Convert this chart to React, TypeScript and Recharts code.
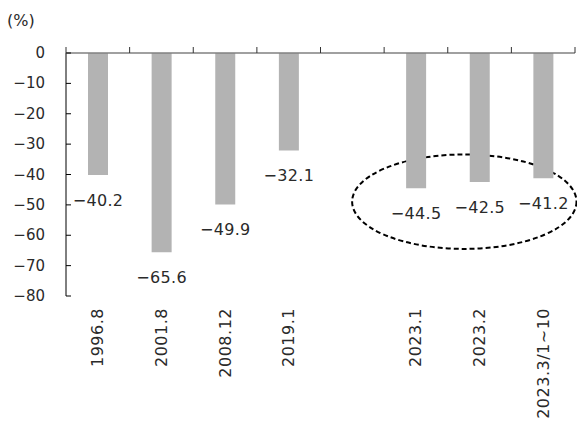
import React from 'react';
import { BarChart, Bar, XAxis, YAxis, LabelList, ReferenceArea, Label } from 'recharts';

// Period labels along the horizontal axis ('' is the spacer slot)
const categories = ['1996.8', '2001.8', '2008.12', '2019.1', '', '2023.1', '2023.2', '2023.3/1~10'];
// Percentage change for each period
const changes: (number | null)[] = [-40.2, -65.6, -49.9, -32.1, null, -44.5, -42.5, -41.2];
// Value-axis ticks
const yTicks = [0, -10, -20, -30, -40, -50, -60, -70, -80];

// Highlighted recent periods (dashed ellipse)
const highlightFrom = '2023.1';
const highlightTo = '2023.3/1~10';
const highlightTop = -33.4;
const highlightBottom = -64.5;

const data = categories.map((cat, i) => ({ cat, value: changes[i] }));

const FONT = '"DejaVu Sans", sans-serif';
const TEXT = '#2a2a2a';
const withMinus = (s: string) => s.replace('-', '\u2212');

const Y_MARGIN = 21;
const TOP_AXIS_H = 6;

const YTick = (props: any) => {
  const { x, y, payload } = props;
  const axisX = x + Y_MARGIN;
  return (
    <g>
      <line x1={axisX} x2={axisX + 5} y1={y} y2={y} stroke="#000" strokeWidth={1} />
      <text x={x} y={y} textAnchor="end" dominantBaseline="central" fontSize={15} fill={TEXT} fontFamily={FONT}>
        {withMinus(String(payload.value))}
      </text>
    </g>
  );
};

// Boundary tick marks pointing upward from the zero line
const TopTick = (props: any) => {
  const { x, y, payload, index } = props;
  const half = payload && typeof payload.offset === 'number' && payload.offset > 0 ? payload.offset : 31.8;
  return (
    <g>
      {index === 0 && <line x1={x - half} x2={x - half} y1={y} y2={y - 6} stroke="#333" strokeWidth={1} />}
      <line x1={x + half} x2={x + half} y1={y} y2={y - 6} stroke="#333" strokeWidth={1} />
    </g>
  );
};

const BottomTick = (props: any) => {
  const { x, y, payload } = props;
  if (!payload.value) return <g />;
  return (
    <text
      x={x}
      y={y}
      transform={`rotate(-90, ${x}, ${y})`}
      textAnchor="end"
      dominantBaseline="central"
      fontSize={16}
      letterSpacing={0.5}
      fill={TEXT}
      fontFamily={FONT}
    >
      {payload.value}
    </text>
  );
};

const ValueLabel = (props: any) => {
  const { x, y, width, height, value } = props;
  if (value === null || value === undefined) return null;
  const end = Math.max(y, y + height);
  return (
    <text
      x={x + width / 2}
      y={end + 25}
      textAnchor="middle"
      dominantBaseline="central"
      fontSize={16}
      letterSpacing={0.3}
      fill={TEXT}
      fontFamily={FONT}
    >
      {withMinus(Number(value).toFixed(1))}
    </text>
  );
};

const EllipseShape = (props: any) => {
  const { x, y, width, height } = props;
  const left = x - 32;
  const right = x + width + 1.5;
  return (
    <ellipse
      cx={(left + right) / 2}
      cy={y + height / 2}
      rx={(right - left) / 2}
      ry={height / 2}
      fill="none"
      stroke="#000"
      strokeWidth={2}
      strokeDasharray="5 3"
    />
  );
};

export default function App() {
  return (
    <div style={{ position: 'absolute', left: 0, top: 0, width: 577, height: 423, background: '#fff' }}>
      <BarChart width={577} height={423} data={data} margin={{ top: 53 - TOP_AXIS_H, right: 2, bottom: 0, left: 0 }}>
        <YAxis
          type="number"
          domain={[-80, 0]}
          ticks={yTicks}
          width={66}
          interval={0}
          tickSize={0}
          tickMargin={Y_MARGIN}
          tickLine={false}
          axisLine={{ stroke: '#000', strokeWidth: 1 }}
          tick={<YTick />}
        >
          <Label
            content={(p: any) => (
              <text x={7} y={20} dominantBaseline="central" fontSize={16} fill={TEXT} fontFamily={FONT}>
                (%)
              </text>
            )}
          />
        </YAxis>
        <XAxis
          dataKey="cat"
          height={127}
          interval={0}
          axisLine={false}
          tickLine={false}
          tickSize={0}
          tickMargin={12}
          tick={<BottomTick />}
        />
        <Bar dataKey="value" fill="#b3b3b3" barSize={20} isAnimationActive={false}>
          <LabelList dataKey="value" content={<ValueLabel />} />
        </Bar>
        <XAxis
          xAxisId="top"
          orientation="top"
          dataKey="cat"
          height={TOP_AXIS_H}
          interval={0}
          tickSize={0}
          tickMargin={0}
          tickLine={false}
          axisLine={{ stroke: '#808080', strokeWidth: 1.5 }}
          tick={<TopTick />}
        />
        <ReferenceArea
          x1={highlightFrom}
          x2={highlightTo}
          y1={highlightTop}
          y2={highlightBottom}
          shape={<EllipseShape />}
        />
      </BarChart>
    </div>
  );
}
